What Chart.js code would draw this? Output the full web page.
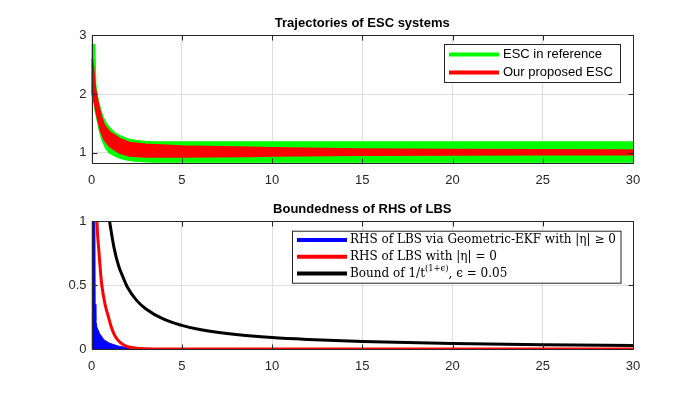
<!DOCTYPE html>
<html>
<head>
<meta charset="utf-8">
<script src="https://cdn.jsdelivr.net/npm/chart.js@4.4.1/dist/chart.umd.min.js"></script>
<style>
  html, body { margin: 0; padding: 0; background: #fff; }
  #wrap { position: relative; width: 700px; height: 393px; overflow: hidden; }
  canvas { position: absolute; left: 0; }
</style>
</head>
<body>
<div id="wrap">
  <canvas id="topChart" width="700" height="195" style="top:0"></canvas>
  <canvas id="bottomChart" width="700" height="198" style="top:195px"></canvas>
</div>
<script>
// ---- top panel: envelopes of the two ESC trajectories
const tGreen = [0, 0.04, 0.16, 0.22, 0.3, 0.45, 0.6, 0.8, 1.0, 1.3, 1.6, 2.0, 2.5, 3, 3.5, 5, 10, 15, 20, 25, 30];
const greenUpper = [2.0, 2.84, 2.84, 2.15, 1.98, 1.78, 1.62, 1.5, 1.42, 1.33, 1.28, 1.23, 1.2, 1.185, 1.18, 1.18, 1.18, 1.18, 1.18, 1.18, 1.18];
const greenLower = [2.0, 2.0, 1.9, 1.72, 1.6, 1.38, 1.22, 1.08, 1.0, 0.95, 0.91, 0.88, 0.86, 0.85, 0.84, 0.835, 0.835, 0.835, 0.835, 0.835, 0.835];

const tRed = [0, 0.03, 0.1, 0.2, 0.35, 0.53, 0.7, 1.0, 1.55, 2.1, 3, 5, 8.8, 10, 15, 20, 25, 30];
const redUpper = [2.0, 2.6, 2.45, 2.1, 1.85, 1.62, 1.47, 1.35, 1.24, 1.17, 1.14, 1.11, 1.09, 1.08, 1.06, 1.05, 1.045, 1.04];
const redLower = [2.0, 2.0, 1.95, 1.8, 1.58, 1.36, 1.23, 1.11, 1.0, 0.95, 0.93, 0.93, 0.94, 0.95, 0.96, 0.965, 0.97, 0.97];

// ---- bottom panel
const tBlue = [0, 0.18, 0.2, 0.24, 0.3, 0.45, 0.7, 1.0, 1.5, 2.0, 2.5, 3, 3.5, 30];
const blueRhs = [1.3, 1.3, 0.35, 0.22, 0.17, 0.12, 0.07, 0.045, 0.022, 0.01, 0.005, 0.002, 0, 0];

const tRedRhs = [0.2, 0.3, 0.4, 0.5, 0.57, 0.75, 0.94, 1.1, 1.31, 1.6, 1.96, 2.5, 3, 4, 30];
const redRhs = [1.6, 1.0, 0.78, 0.6, 0.5, 0.35, 0.25, 0.17, 0.1, 0.05, 0.02, 0.006, 0.002, 0, 0];

const tBound = [0.9, 0.95, 1, 1.25, 1.5, 1.75, 2, 2.5, 3, 4, 5, 6, 8, 10, 12, 15, 20, 25, 30];
const boundVals = [1.12, 1.05, 1.0, 0.79, 0.65, 0.56, 0.48, 0.38, 0.315, 0.233, 0.185, 0.152, 0.113, 0.089, 0.074, 0.058, 0.043, 0.034, 0.028];

const xTicks = [0, 5, 10, 15, 20, 25, 30];
const yTicksTop = [1, 2, 3];
const yTicksBottom = [0, 0.5, 1];

const axisColor = "#262626";
const gridColor = "#dedede";

Chart.defaults.font.family = "'Liberation Sans', Arial, sans-serif";
Chart.defaults.font.size = 13;
Chart.defaults.color = axisColor;

function zip(xs, ys) {
  return xs.map((x, i) => ({ x: x, y: ys[i] }));
}

// MATLAB-like box with inward ticks on all four sides
const axesBox = {
  id: "axesBox",
  afterDatasetsDraw(chart) {
    const { ctx, chartArea: a, scales } = chart;
    const L = Math.round(a.left) + 0.5, R = Math.round(a.right) + 0.5;
    const T = Math.round(a.top) + 0.5, B = Math.round(a.bottom) + 0.5;
    ctx.save();
    ctx.strokeStyle = axisColor;
    ctx.lineWidth = 1;
    ctx.beginPath();
    scales.x.ticks.forEach(t => {
      const px = Math.round(scales.x.getPixelForValue(t.value)) + 0.5;
      ctx.moveTo(px, B); ctx.lineTo(px, B - 5);
      ctx.moveTo(px, T); ctx.lineTo(px, T + 5);
    });
    scales.y.ticks.forEach(t => {
      const py = Math.round(scales.y.getPixelForValue(t.value)) + 0.5;
      ctx.moveTo(L, py); ctx.lineTo(L + 5, py);
      ctx.moveTo(R, py); ctx.lineTo(R - 5, py);
    });
    ctx.rect(L, T, R - L, B - T);
    ctx.stroke();
    ctx.restore();
  }
};

// label text with ^{...} superscripts
function drawRich(ctx, text, x, y, family, size) {
  const parts = text.split(/(\^\{[^}]*\})/);
  let cx = x;
  parts.forEach(p => {
    if (!p) return;
    let s = size, dy = 0, str = p;
    if (p.startsWith("^{")) {
      str = p.slice(2, -1);
      s = size * 0.7;
      dy = -size * 0.38;
    }
    ctx.font = s + "px " + family;
    ctx.fillText(str, cx, y + dy);
    cx += ctx.measureText(str).width;
  });
}

const boxLegend = {
  id: "boxLegend",
  afterDraw(chart, args, o) {
    const ctx = chart.ctx;
    ctx.save();
    ctx.fillStyle = "#fff";
    ctx.fillRect(o.x, o.y, o.w, o.h);
    ctx.strokeStyle = axisColor;
    ctx.lineWidth = 1;
    ctx.strokeRect(o.x + 0.5, o.y + 0.5, o.w, o.h);
    const items = chart.data.datasets
      .filter(d => d.legendRank)
      .sort((a, b) => a.legendRank - b.legendRank);
    items.forEach((d, i) => {
      const y = o.rowY + i * o.rowGap;
      ctx.strokeStyle = d.borderColor;
      ctx.lineWidth = 4;
      ctx.beginPath();
      ctx.moveTo(o.lineX1, y);
      ctx.lineTo(o.lineX2, y);
      ctx.stroke();
      ctx.fillStyle = "#000";
      ctx.textBaseline = "middle";
      drawRich(ctx, d.label, o.textX, y, o.family, o.size);
    });
    ctx.restore();
  }
};

function scalesFor(yMin, yMax, yTicks, xHeight) {
  return {
    x: {
      type: "linear",
      min: 0,
      max: 30,
      afterBuildTicks: s => { s.ticks = xTicks.map(v => ({ value: v })); },
      afterFit: s => { s.height = xHeight; },
      ticks: { padding: 10, color: axisColor, maxRotation: 0, callback: v => String(v) },
      grid: { color: gridColor, drawTicks: false },
      border: { display: false },
    },
    y: {
      type: "linear",
      min: yMin,
      max: yMax,
      afterBuildTicks: s => { s.ticks = yTicks.map(v => ({ value: v })); },
      afterFit: s => { s.width = 91.5; },
      ticks: { padding: 5, color: axisColor, callback: v => String(v) },
      grid: { color: gridColor, drawTicks: false },
      border: { display: false },
    },
  };
}

function titleFor(text, top, bottom) {
  return {
    display: true,
    text: text,
    fullSize: false,
    color: "#000",
    font: { size: 13, weight: "bold" },
    padding: { top: top, bottom: bottom },
  };
}

new Chart(document.getElementById("topChart").getContext("2d"), {
  type: "line",
  data: {
    datasets: [
      {
        label: "Our proposed ESC",
        legendRank: 2,
        data: zip(tRed, redUpper),
        borderColor: "#ff0000",
        backgroundColor: "#ff0000",
        borderWidth: 2,
        pointRadius: 0,
        fill: "+1",
        order: 1,
      },
      {
        label: "red lower",
        data: zip(tRed, redLower),
        borderColor: "#ff0000",
        borderWidth: 2,
        pointRadius: 0,
        fill: false,
        order: 1,
      },
      {
        label: "ESC in reference",
        legendRank: 1,
        data: zip(tGreen, greenUpper),
        borderColor: "#00ff00",
        backgroundColor: "#00ff00",
        borderWidth: 2,
        pointRadius: 0,
        fill: "+1",
        order: 2,
      },
      {
        label: "green lower",
        data: zip(tGreen, greenLower),
        borderColor: "#00ff00",
        borderWidth: 2,
        pointRadius: 0,
        fill: false,
        order: 2,
      },
    ],
  },
  options: {
    responsive: false,
    animation: false,
    devicePixelRatio: 1,
    layout: { padding: { left: 0, right: 67, top: 0, bottom: 0 } },
    plugins: {
      legend: { display: false },
      tooltip: { enabled: false },
      title: titleFor("Trajectories of ESC systems", 16, 3.7),
      boxLegend: {
        x: 444, y: 44, w: 176, h: 38,
        lineX1: 449, lineX2: 499, textX: 503,
        rowY: 54.5, rowGap: 18,
        family: "'Liberation Sans', Arial, sans-serif", size: 13,
      },
    },
    scales: scalesFor(0.83, 3, yTicksTop, 32.3),
  },
  plugins: [axesBox, boxLegend],
});

// legend order is blue, red, black; draw order puts black on top
new Chart(document.getElementById("bottomChart").getContext("2d"), {
  type: "line",
  data: {
    datasets: [
      {
        label: "RHS of LBS via Geometric-EKF with |η| ≥ 0",
        legendRank: 1,
        data: zip(tBlue, blueRhs),
        borderColor: "#0000ff",
        backgroundColor: "#0000ff",
        borderWidth: 1,
        pointRadius: 0,
        fill: "origin",
        order: 3,
      },
      {
        label: "RHS of LBS with |η| = 0",
        legendRank: 2,
        data: zip(tRedRhs, redRhs),
        borderColor: "#ff0000",
        borderWidth: 3,
        pointRadius: 0,
        cubicInterpolationMode: "monotone",
        fill: false,
        order: 2,
      },
      {
        label: "Bound of 1/t^{(1+ϵ)}, ϵ = 0.05",
        legendRank: 3,
        data: zip(tBound, boundVals),
        borderColor: "#000000",
        borderWidth: 3,
        pointRadius: 0,
        cubicInterpolationMode: "monotone",
        fill: false,
        order: 1,
      },
    ],
  },
  options: {
    responsive: false,
    animation: false,
    devicePixelRatio: 1,
    layout: { padding: { left: 0, right: 67, top: 0, bottom: 0 } },
    plugins: {
      legend: { display: false },
      tooltip: { enabled: false },
      title: titleFor("Boundedness of RHS of LBS", 6.2, 4.2),
      boxLegend: {
        x: 292, y: 35.7, w: 328.5, h: 52,
        lineX1: 297, lineX2: 347, textX: 350,
        rowY: 45, rowGap: 16.7,
        family: "'DejaVu Serif', 'Liberation Serif', serif", size: 12,
      },
    },
    scales: scalesFor(0, 1, yTicksBottom, 44),
  },
  plugins: [axesBox, boxLegend],
});
</script>
</body>
</html>
